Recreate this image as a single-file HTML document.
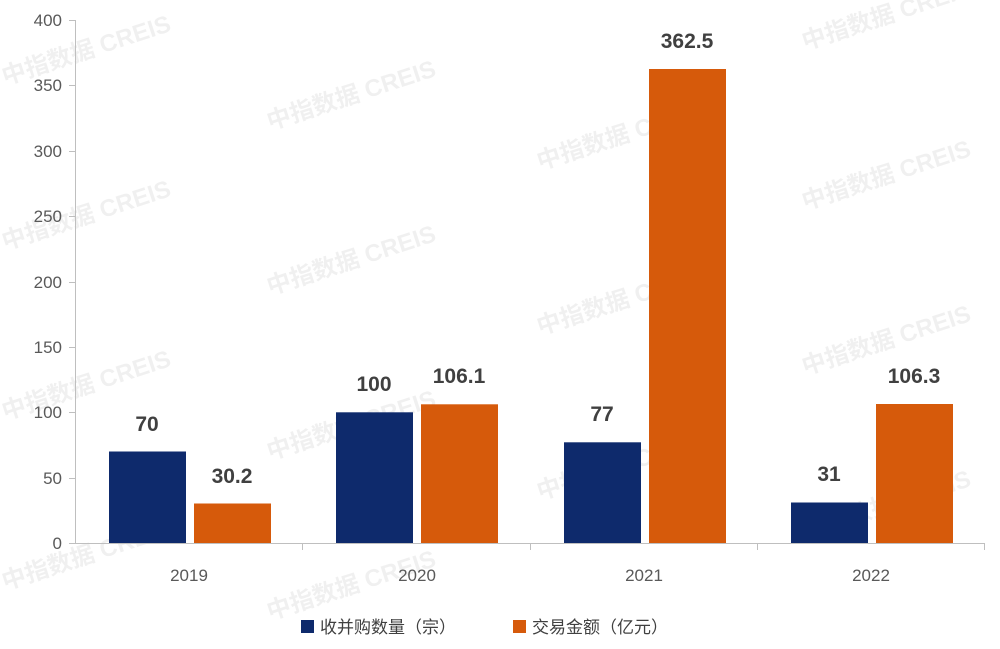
<!DOCTYPE html>
<html><head><meta charset="utf-8"><style>
html,body{margin:0;padding:0;background:#fff;}
body{width:1000px;height:644px;overflow:hidden;}
</style></head><body>
<svg width="1000" height="644" xmlns="http://www.w3.org/2000/svg" font-family="Liberation Sans, Noto Sans CJK SC, sans-serif">
<g fill="#000" fill-opacity="0.06" font-size="24" font-weight="bold">
<text transform="translate(5,85) rotate(-18)">中指数据 CREIS</text>
<text transform="translate(270,130) rotate(-18)">中指数据 CREIS</text>
<text transform="translate(540,170) rotate(-18)">中指数据 CREIS</text>
<text transform="translate(805,50) rotate(-18)">中指数据 CREIS</text>
<text transform="translate(805,210) rotate(-18)">中指数据 CREIS</text>
<text transform="translate(5,250) rotate(-18)">中指数据 CREIS</text>
<text transform="translate(270,295) rotate(-18)">中指数据 CREIS</text>
<text transform="translate(540,335) rotate(-18)">中指数据 CREIS</text>
<text transform="translate(805,375) rotate(-18)">中指数据 CREIS</text>
<text transform="translate(5,420) rotate(-18)">中指数据 CREIS</text>
<text transform="translate(270,460) rotate(-18)">中指数据 CREIS</text>
<text transform="translate(540,500) rotate(-18)">中指数据 CREIS</text>
<text transform="translate(805,540) rotate(-18)">中指数据 CREIS</text>
<text transform="translate(5,590) rotate(-18)">中指数据 CREIS</text>
<text transform="translate(270,620) rotate(-18)">中指数据 CREIS</text>
</g>
<g stroke="#bfbfbf" stroke-width="1">
<line x1="75.5" y1="20" x2="75.5" y2="543"/>
<line x1="75" y1="543.5" x2="985" y2="543.5"/>
<line x1="69" y1="20.5" x2="75" y2="20.5"/><line x1="69" y1="85.5" x2="75" y2="85.5"/>
<line x1="69" y1="151.5" x2="75" y2="151.5"/><line x1="69" y1="216.5" x2="75" y2="216.5"/>
<line x1="69" y1="282.5" x2="75" y2="282.5"/><line x1="69" y1="347.5" x2="75" y2="347.5"/>
<line x1="69" y1="412.5" x2="75" y2="412.5"/><line x1="69" y1="478.5" x2="75" y2="478.5"/>
<line x1="69" y1="543.5" x2="75" y2="543.5"/>
<line x1="302.5" y1="543" x2="302.5" y2="550"/><line x1="530.5" y1="543" x2="530.5" y2="550"/>
<line x1="757.5" y1="543" x2="757.5" y2="550"/><line x1="984.5" y1="543" x2="984.5" y2="550"/>
</g>
<g fill="#595959" font-size="17" text-anchor="end">
<text x="62" y="26">400</text><text x="62" y="91">350</text><text x="62" y="157">300</text>
<text x="62" y="222">250</text><text x="62" y="288">200</text><text x="62" y="353">150</text>
<text x="62" y="418">100</text><text x="62" y="484">50</text><text x="62" y="549">0</text>
</g>
<g fill="#595959" font-size="17" text-anchor="middle">
<text x="189" y="581">2019</text><text x="417" y="581">2020</text>
<text x="644" y="581">2021</text><text x="871" y="581">2022</text>
</g>
<g fill="#0e2a6c">
<rect x="109" y="451.5" width="77" height="91.5"/>
<rect x="336" y="412.3" width="77" height="130.7"/>
<rect x="564" y="442.3" width="77" height="100.7"/>
<rect x="791" y="502.5" width="77" height="40.5"/>
</g>
<g fill="#d65a0b">
<rect x="194" y="503.5" width="77" height="39.5"/>
<rect x="421" y="404.3" width="77" height="138.7"/>
<rect x="649" y="69" width="77" height="474"/>
<rect x="876" y="404" width="77" height="139"/>
</g>
<g fill="#404040" font-size="21" font-weight="bold" text-anchor="middle">
<text x="147" y="431">70</text><text x="232" y="483">30.2</text>
<text x="374" y="391">100</text><text x="459" y="383">106.1</text>
<text x="602" y="421">77</text><text x="687" y="48">362.5</text>
<text x="829" y="481">31</text><text x="914" y="383">106.3</text>
</g>
<rect x="301" y="620" width="13" height="13" fill="#0e2a6c"/>
<text x="320" y="633" font-size="17" fill="#404040">收并购数量（宗）</text>
<rect x="513" y="620" width="13" height="13" fill="#d65a0b"/>
<text x="532" y="633" font-size="17" fill="#404040">交易金额（亿元）</text>
</svg>
</body></html>
